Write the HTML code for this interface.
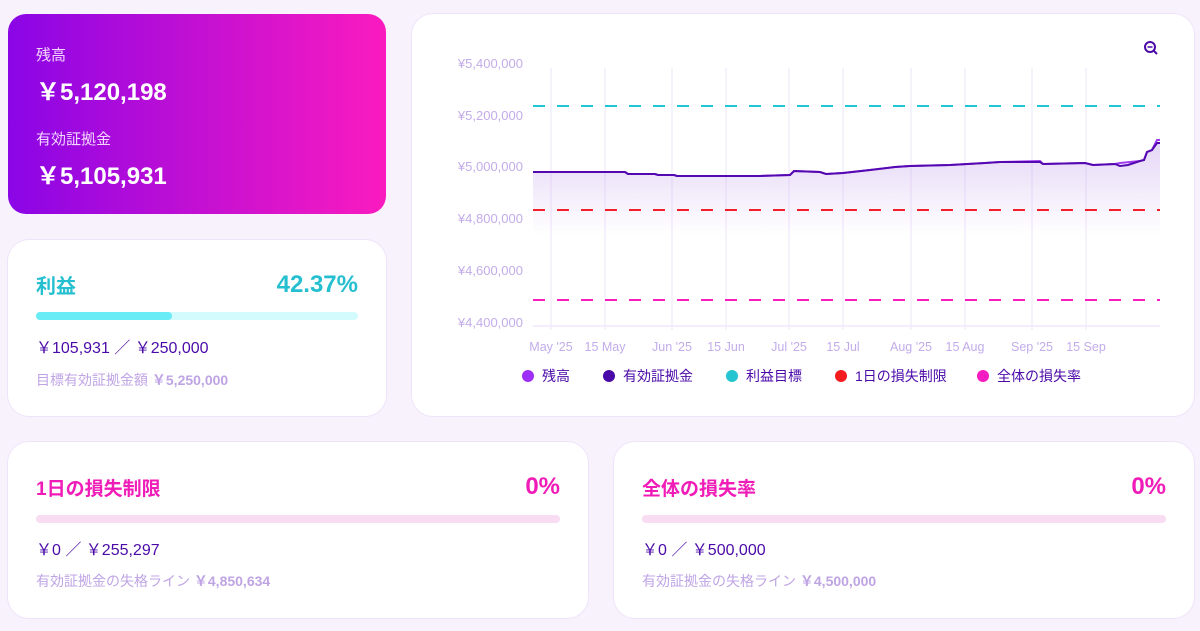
<!DOCTYPE html>
<html><head><meta charset="utf-8"><style>
body{margin:0;width:1200px;height:631px;background:#f8f2fd;font-family:"Liberation Sans","Noto Sans CJK JP",sans-serif;position:relative;overflow:hidden}
.card{position:absolute;background:#fff;border:1px solid #efe3fa;border-radius:22px;box-sizing:border-box}
.t{position:absolute;white-space:nowrap}
</style></head><body>
<div class="card" style="left:8px;top:14px;width:378px;height:200px;border:none;border-radius:18px;background:linear-gradient(90deg,#8a05e6,#fb1bbf)">
<div class="t" style="left:28px;top:30px;color:#f3d6ff;font-size:15px">残高</div>
<div class="t" style="left:28px;top:58px;color:#fff;font-size:24px;font-weight:bold">￥5,120,198</div>
<div class="t" style="left:28px;top:114px;color:#f3d6ff;font-size:15px">有効証拠金</div>
<div class="t" style="left:28px;top:142px;color:#fff;font-size:24px;font-weight:bold">￥5,105,931</div>
</div>
<div class="card" style="left:7px;top:239px;width:380px;height:178px">
<div class="t" style="left:28px;top:30px;color:#25bfd0;font-size:20px;font-weight:bold">利益</div>
<div class="t" style="right:28px;top:31px;color:#25bfd0;font-size:24px;font-weight:bold">42.37%</div>
<div style="position:absolute;left:28px;top:72px;width:322px;height:8px;border-radius:4px;background:#d3fafd"><div style="width:136px;height:8px;border-radius:4px;background:#69ecf6"></div></div>
<div class="t" style="left:28px;top:94px;color:#4b0aa8;font-size:16px">￥105,931 ／ ￥250,000</div>
<div class="t" style="left:28px;top:130px;color:#bfa4e4;font-size:14px">目標有効証拠金額 <b>￥5,250,000</b></div>
</div>
<div class="card" style="left:411px;top:13px;width:784px;height:404px"></div>
<div class="card" style="left:7px;top:441px;width:582px;height:178px">
<div class="t" style="left:28px;top:32px;color:#f01cb8;font-size:19px;font-weight:bold">1日の損失制限</div>
<div class="t" style="right:28px;top:31px;color:#f01cb8;font-size:24px;font-weight:bold">0%</div>
<div style="position:absolute;left:28px;top:73px;width:524px;height:8px;border-radius:4px;background:#f8dcf1"></div>
<div class="t" style="left:28px;top:94px;color:#4b0aa8;font-size:16px">￥0 ／ ￥255,297</div>
<div class="t" style="left:28px;top:129px;color:#bfa4e4;font-size:14px">有効証拠金の失格ライン <b>￥4,850,634</b></div>
</div>
<div class="card" style="left:613px;top:441px;width:582px;height:178px">
<div class="t" style="left:28px;top:32px;color:#f01cb8;font-size:19px;font-weight:bold">全体の損失率</div>
<div class="t" style="right:28px;top:31px;color:#f01cb8;font-size:24px;font-weight:bold">0%</div>
<div style="position:absolute;left:28px;top:73px;width:524px;height:8px;border-radius:4px;background:#f8dcf1"></div>
<div class="t" style="left:28px;top:94px;color:#4b0aa8;font-size:16px">￥0 ／ ￥500,000</div>
<div class="t" style="left:28px;top:129px;color:#bfa4e4;font-size:14px">有効証拠金の失格ライン <b>￥4,500,000</b></div>
</div>
<svg width="1200" height="631" style="position:absolute;left:0;top:0" font-family="Liberation Sans, sans-serif">
<defs><linearGradient id="g" x1="0" y1="0" x2="0" y2="1"><stop offset="0" stop-color="#b48ce6" stop-opacity=".35"/><stop offset="1" stop-color="#b48ce6" stop-opacity="0"/></linearGradient></defs>
<g stroke="#f4edfc" stroke-width="1.5">
<line x1="551" y1="68" x2="551" y2="330"/><line x1="605" y1="68" x2="605" y2="330"/><line x1="672" y1="68" x2="672" y2="330"/><line x1="726" y1="68" x2="726" y2="330"/><line x1="789" y1="68" x2="789" y2="330"/><line x1="843" y1="68" x2="843" y2="330"/><line x1="911" y1="68" x2="911" y2="330"/><line x1="965" y1="68" x2="965" y2="330"/><line x1="1032" y1="68" x2="1032" y2="330"/><line x1="1086" y1="68" x2="1086" y2="330"/>
<line x1="533" y1="326" x2="1160" y2="326" stroke="#f2e6fd"/></g>
<g fill="#c3acea" font-size="13" text-anchor="end">
<text x="523" y="68">¥5,400,000</text><text x="523" y="120">¥5,200,000</text><text x="523" y="171">¥5,000,000</text><text x="523" y="223">¥4,800,000</text><text x="523" y="275">¥4,600,000</text><text x="523" y="327">¥4,400,000</text></g>
<g fill="#c3acea" font-size="12.5" text-anchor="middle">
<text x="551" y="351">May '25</text><text x="605" y="351">15 May</text><text x="672" y="351">Jun '25</text><text x="726" y="351">15 Jun</text><text x="789" y="351">Jul '25</text><text x="843" y="351">15 Jul</text><text x="911" y="351">Aug '25</text><text x="965" y="351">15 Aug</text><text x="1032" y="351">Sep '25</text><text x="1086" y="351">15 Sep</text></g>
<path d="M533,172 L625,172 L628,174 L655,174 L658,175 L674,175 L677,176 L760,176 L790,175 L794,171 L820,172 L826,174 L843,173 L870,170 L895,167 L910,166 L950,165 L985,163 L1000,162 L1040,161.5 L1043,164 L1085,163 L1093,165 L1115,164 L1120,166 L1128,165 L1140,161 L1144,160 L1147,152 L1152,150 L1157,143 L1160,143 L1160,235 L533,235 Z" fill="url(#g)"/>
<g stroke-dasharray="12,12" stroke-width="2">
<line x1="533" y1="106" x2="1160" y2="106" stroke="#22c5d5"/>
<line x1="533" y1="210" x2="1160" y2="210" stroke="#f2202a"/>
<line x1="533" y1="300" x2="1160" y2="300" stroke="#f51cc2"/></g>
<path d="M533,172 L625,172 L628,174 L655,174 L658,175 L674,175 L677,176 L760,176 L790,175 L794,171 L820,172 L826,174 L843,173 L870,170 L895,167 L910,166 L950,165 L985,163 L1000,162 L1040,161 L1043,164 L1085,163 L1093,165 L1115,164 L1120,163 L1140,161 L1144,160 L1147,152 L1152,150 L1157,140 L1160,140" fill="none" stroke="#a13cf0" stroke-width="2"/>
<path d="M533,172 L625,172 L628,174 L655,174 L658,175 L674,175 L677,176 L760,176 L790,175 L794,171 L820,172 L826,174 L843,173 L870,170 L895,167 L910,166 L950,165 L985,163 L1000,162 L1040,162 L1043,164 L1085,163 L1093,165 L1115,164 L1120,166 L1128,165 L1140,161 L1144,160 L1147,152 L1152,150 L1157,143 L1160,143" fill="none" stroke="#5308b0" stroke-width="2"/>
<circle cx="1150" cy="47" r="5" fill="none" stroke="#4b0aa8" stroke-width="2"/><line x1="1147.5" y1="47" x2="1152.5" y2="47" stroke="#4b0aa8" stroke-width="1.5"/><line x1="1154" y1="51" x2="1157" y2="54" stroke="#4b0aa8" stroke-width="2"/>
<g font-size="14" fill="#4b0aa8" font-family="Liberation Sans, Noto Sans CJK JP, sans-serif">
<circle cx="528" cy="376" r="6" fill="#9e2ef6"/><text x="542" y="381">残高</text>
<circle cx="609" cy="376" r="6" fill="#4a0aa8"/><text x="623" y="381">有効証拠金</text>
<circle cx="732" cy="376" r="6" fill="#22c5d0"/><text x="746" y="381">利益目標</text>
<circle cx="841" cy="376" r="6" fill="#f51c20"/><text x="855" y="381">1日の損失制限</text>
<circle cx="983" cy="376" r="6" fill="#f51cc2"/><text x="997" y="381">全体の損失率</text></g>
</svg>
</body></html>
